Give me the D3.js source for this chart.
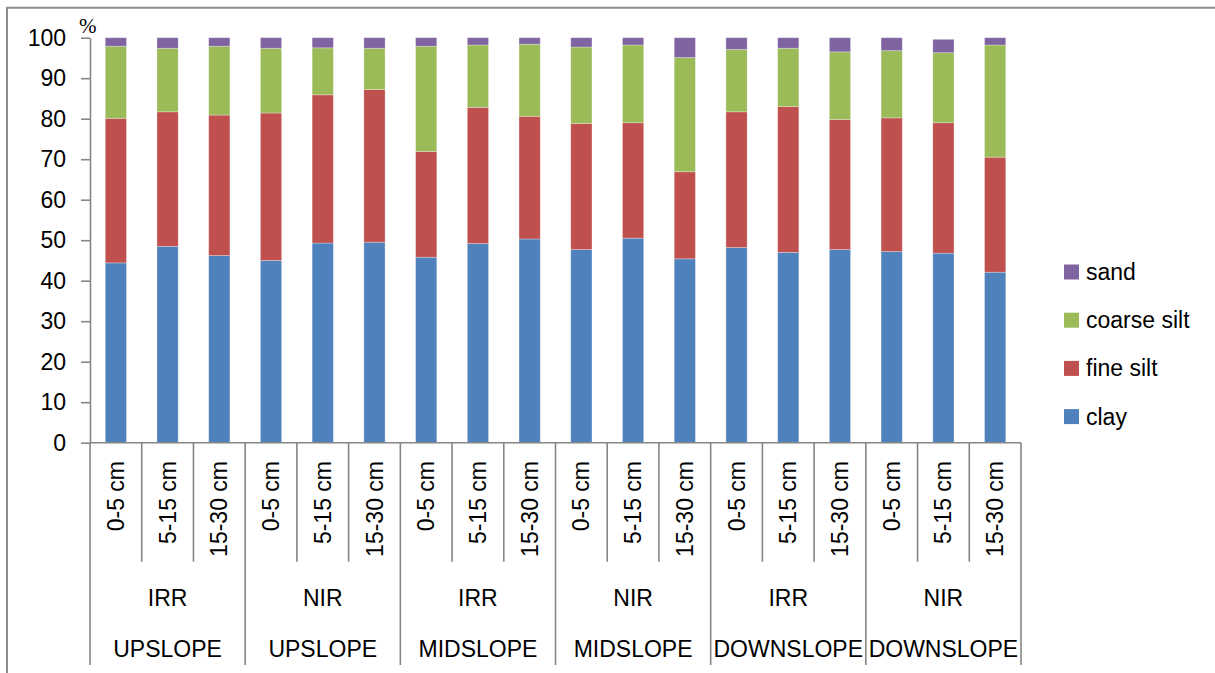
<!DOCTYPE html>
<html>
<head>
<meta charset="utf-8">
<script src="https://cdn.jsdelivr.net/npm/d3@7"></script>
<style>
  html, body { margin: 0; padding: 0; background: #fff; }
  svg { display: block; }
  text { font-family: "Liberation Sans", Arial, sans-serif; fill: #000; }
</style>
</head>
<body>
<svg id="chart" width="1215" height="673"></svg>
<script>
// ---- data ----
const depths = ["0-5 cm", "5-15 cm", "15-30 cm"];
const treatments = ["IRR", "NIR", "IRR", "NIR", "IRR", "NIR"];
const slopes = ["UPSLOPE", "UPSLOPE", "MIDSLOPE", "MIDSLOPE", "DOWNSLOPE", "DOWNSLOPE"];
const seriesNames = ["clay", "fine silt", "coarse silt", "sand"];
const clay       = [44.4, 48.5, 46.2, 45.0, 49.3, 49.5, 45.8, 49.2, 50.3, 47.7, 50.5, 45.4, 48.2, 47.0, 47.7, 47.2, 46.8, 42.1];
const fineSilt   = [35.7, 33.2, 34.7, 36.4, 36.6, 37.7, 26.1, 33.6, 30.3, 31.1, 28.5, 21.5, 33.5, 36.0, 32.1, 33.0, 32.2, 28.4];
const coarseSilt = [17.8, 15.7, 17.0, 16.0, 11.6, 10.2, 26.0, 15.4, 17.8, 18.9, 19.2, 28.2, 15.4, 14.4, 16.7, 16.6, 17.3, 27.7];
const sand       = [ 2.1,  2.6,  2.1,  2.6,  2.5,  2.6,  2.1,  1.8,  1.6,  2.3,  1.8,  4.9,  2.9,  2.6,  3.5,  3.2,  3.3,  1.8];
const yTicks = [0, 10, 20, 30, 40, 50, 60, 70, 80, 90, 100];
const colors = ["#4F81BD", "#C0504D", "#9BBB59", "#8064A2"];

// ---- build table ----
const seriesValues = [clay, fineSilt, coarseSilt, sand];
const rows = clay.map((_, i) => {
  const r = { idx: i, depth: depths[i % 3] };
  seriesNames.forEach((s, k) => r[s] = seriesValues[k][i]);
  return r;
});
const stacked = d3.stack().keys(seriesNames)(rows);

const svg = d3.select("#chart");
const axisColor = "#868686";

// outer frame
svg.append("path")
  .attr("d", "M7,673 L7,7.7 L1215,7.7")
  .attr("fill", "none").attr("stroke", "#8c8c8c").attr("stroke-width", 2);

const x = d3.scaleBand().domain(d3.range(rows.length)).range([90, 1021])
  .paddingInner(0.59).paddingOuter(0.295);
const y = d3.scaleLinear().domain([0, 100]).range([442.7, 37.7]);
const step = x.step();

// bars
svg.append("g").selectAll("g").data(stacked).join("g")
  .attr("fill", (d, i) => colors[i])
  .selectAll("rect").data(d => d).join("rect")
  .attr("x", d => x(d.data.idx))
  .attr("width", x.bandwidth())
  .attr("y", d => y(d[1]))
  .attr("height", d => y(d[0]) - y(d[1]))
  .attr("stroke", "#ffffff").attr("stroke-opacity", 0.35).attr("stroke-width", 0.8);

// y axis
const yAxis = svg.append("g").attr("transform", "translate(90,0)")
  .call(d3.axisLeft(y).tickValues(yTicks).tickSize(9).tickPadding(15).tickSizeOuter(0));
yAxis.select(".domain").attr("stroke", axisColor).attr("stroke-width", 1.6);
yAxis.selectAll(".tick line").attr("stroke", axisColor).attr("stroke-width", 1.6);
yAxis.selectAll(".tick text").attr("font-size", 23).attr("font-family", "Liberation Sans, Arial, sans-serif").attr("fill", "#000");

// % label
svg.append("text").attr("x", 79).attr("y", 33).attr("font-size", 21)
  .style("font-family", "'Liberation Serif', 'Times New Roman', serif").text("%");

// x axis baseline
const x0 = x.range()[0], x1 = x.range()[1];
svg.append("line").attr("x1", x0).attr("x2", x1).attr("y1", y(0)).attr("y2", y(0))
  .attr("stroke", axisColor).attr("stroke-width", 1.6);

// category separators
const seps = d3.range(rows.length + 1);
svg.append("g").selectAll("line").data(seps).join("line")
  .attr("x1", i => x0 + i * step).attr("x2", i => x0 + i * step)
  .attr("y1", y(0)).attr("y2", i => (i % 3 === 0 ? 665 : 561.7))
  .attr("stroke", axisColor).attr("stroke-width", 1.6);

// depth labels
svg.append("g").selectAll("text").data(rows).join("text")
  .attr("transform", d => `translate(${x(d.idx) + x.bandwidth() / 2},461) rotate(-90)`)
  .attr("text-anchor", "end").attr("dy", "0.35em").attr("font-size", 23)
  .text(d => d.depth);

// treatment labels
svg.append("g").selectAll("text").data(treatments).join("text")
  .attr("x", (d, i) => x0 + (i * 3 + 1.5) * step).attr("y", 606)
  .attr("text-anchor", "middle").attr("font-size", 23).text(d => d);

// slope labels
svg.append("g").selectAll("text").data(slopes).join("text")
  .attr("x", (d, i) => x0 + (i * 3 + 1.5) * step).attr("y", 657)
  .attr("text-anchor", "middle").attr("font-size", 23).text(d => d);

// legend (reverse order: sand on top)
const legendItems = seriesNames.map((s, i) => ({ name: s, color: colors[i] })).reverse();
const lg = svg.append("g").selectAll("g").data(legendItems).join("g")
  .attr("transform", (d, i) => `translate(1064,${272 + i * 48.2})`);
lg.append("rect").attr("x", 0).attr("y", -7.5).attr("width", 15).attr("height", 15)
  .attr("fill", d => d.color);
lg.append("text").attr("x", 22).attr("dy", "0.35em").attr("font-size", 23).text(d => d.name);
</script>
</body>
</html>
